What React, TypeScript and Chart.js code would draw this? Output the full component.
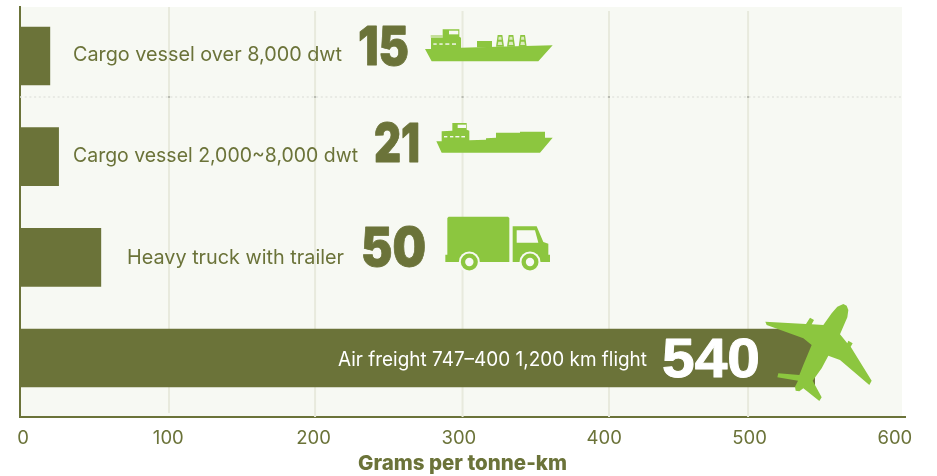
import React, { useEffect, useRef } from "react";
import { Chart, registerables } from "chart.js";

Chart.register(...registerables);

const categories = [
  "Cargo vessel over 8,000 dwt",
  "Cargo vessel 2,000~8,000 dwt",
  "Heavy truck with trailer",
  "Air freight 747\u2013400 1,200 km flight",
];
const values = [15, 21, 50, 540];
const tickValues = [0, 100, 200, 300, 400, 500, 600];
const gridValues = [100.5, 201, 302.5, 403.3, 499];
const axisTitle = "Grams per tonne-km";

const OLIVE = "#6B7339";
const GREEN = "#8CC63F";
const PANEL = "#F7F9F3";
const GRID = "#E8EADD";

const BODY_FONT = "Inter";
const labelRight = [342, 358, 344, 647];
const labelWidth = [269, 285, 217, 309];
const labelDy = [5, 5.7, 7, 8];
const numberLeft = [358, 374, 361, 662];
const numberWidth = [51, 46, 65, 98];
const numberDy = [9, 5, 9, 19];

type Pt = [number, number];
const hull1: Pt[] = [[15,147],[33,147],[33,113],[68,113],[68,88],[118,88],[118,110],[123,113],[123,143],[175,142],[398,136],[355,184],[35,184]];
const shipLight1: Pt[] = [[32,105],[68,105],[68,113],[32,113]];
const win1: Pt[] = [[87,92],[115,92],[115,103],[87,103]];
const dashes1: Pt[] = [[40,50],[58,68],[76,88],[96,108]];
const box1: Pt[] = [[171,123],[216,123],[216,142],[171,142]];
const cranes1 = [230, 263, 298];
const hull2: Pt[] = [[49,425],[65,425],[65,395],[97,393],[97,370],[140,370],[140,390],[148,393],[148,422],[198,420],[198,416],[228,414],[228,399],[300,399],[300,396],[375,396],[375,414],[398,414],[360,459],[65,459]];
const win2: Pt[] = [[113,375],[138,375],[138,385],[113,385]];
const dashes2: Pt[] = [[72,82],[90,100],[106,118],[124,135]];
const truckBox: Pt[] = [[46,148],[52,148],[52,38],[56,34],[234,34],[238,38],[238,170],[46,170]];
const truckCab: Pt[] = [[248,63],[320,63],[340,110],[355,115],[355,148],[360,148],[360,170],[248,170]];
const truckWin: Pt[] = [[260,75],[315,75],[325,112],[260,112]];
const wheels = [118, 300];
const plane: Pt[] = [[610,42],[620,47],[625,60],[622,82],[600,133],[622,160],[625,152],[638,160],[632,170],[695,272],[688,285],[600,210],[565,197],[545,235],[518,272],[545,322],[538,333],[490,295],[478,304],[467,302],[465,290],[474,272],[412,262],[415,250],[478,255],[490,225],[515,165],[490,145],[380,105],[376,95],[498,102],[510,83],[522,90],[515,103],[550,105],[575,70],[592,50]];

const iconAnchors = [
  { x: 420, dy: -56 },
  { x: 420, dy: -157 },
  { x: 430, dy: -52 },
  { x: 640, dy: -68 },
];

function poly(ctx: CanvasRenderingContext2D, pts: Pt[], ox: number, oy: number, color: string) {
  ctx.fillStyle = color;
  ctx.beginPath();
  pts.forEach(([x, y], i) => {
    const px = ox + x / 3;
    const py = oy + y / 3;
    if (i === 0) ctx.moveTo(px, py);
    else ctx.lineTo(px, py);
  });
  ctx.closePath();
  ctx.fill();
}

function dashRow(ctx: CanvasRenderingContext2D, dashes: Pt[], y: number, ox: number, oy: number) {
  ctx.fillStyle = PANEL;
  dashes.forEach(([a, b]) => ctx.fillRect(ox + a / 3, oy + y / 3, (b - a) / 3, 1.4));
}

function fitText(ctx: CanvasRenderingContext2D, text: string, left: number, y: number, width: number, stroke = 0) {
  const natural = ctx.measureText(text).width;
  ctx.save();
  ctx.textAlign = "left";
  ctx.translate(left, y);
  ctx.scale(width / natural, 1);
  if (stroke > 0) {
    ctx.strokeStyle = ctx.fillStyle;
    ctx.lineWidth = stroke;
    ctx.lineJoin = "round";
    ctx.strokeText(text, 0, 0);
  }
  ctx.fillText(text, 0, 0);
  ctx.restore();
}

function drawIcons(ctx: CanvasRenderingContext2D, ys: number[]) {
  let a = iconAnchors[0];
  let ox = a.x;
  let oy = ys[0] + a.dy;
  poly(ctx, shipLight1, ox, oy, "#C5DF9A");
  poly(ctx, hull1, ox, oy, GREEN);
  poly(ctx, win1, ox, oy, PANEL);
  poly(ctx, box1, ox, oy, GREEN);
  dashRow(ctx, dashes1, 130, ox, oy);
  cranes1.forEach((c) => {
    poly(ctx, [[c + 3, 105], [c + 17, 105], [c + 22, 140], [c - 2, 140]], ox, oy, GREEN);
    poly(ctx, [[c + 6, 110], [c + 14, 110], [c + 15, 119], [c + 5, 119]], ox, oy, "#DCEBC0");
    poly(ctx, [[c + 5, 125], [c + 15, 125], [c + 17, 135], [c + 3, 135]], ox, oy, "#DCEBC0");
  });

  a = iconAnchors[1];
  ox = a.x;
  oy = ys[1] + a.dy;
  poly(ctx, hull2, ox, oy, GREEN);
  poly(ctx, win2, ox, oy, PANEL);
  dashRow(ctx, dashes2, 409, ox, oy);

  a = iconAnchors[2];
  ox = a.x;
  oy = ys[2] + a.dy;
  poly(ctx, truckBox, ox, oy, GREEN);
  poly(ctx, truckCab, ox, oy, GREEN);
  poly(ctx, truckWin, ox, oy, PANEL);
  wheels.forEach((w) => {
    const cx = ox + w / 3;
    const cy = oy + 170 / 3;
    [[10.5, PANEL], [8.5, GREEN], [4.2, PANEL]].forEach(([r, color]) => {
      ctx.fillStyle = color as string;
      ctx.beginPath();
      ctx.arc(cx, cy, r as number, 0, Math.PI * 2);
      ctx.fill();
    });
  });

  a = iconAnchors[3];
  poly(ctx, plane, a.x, ys[3] + a.dy, GREEN);
}

const decoration = {
  id: "decoration",
  beforeDraw(chart: any) {
    const { ctx, chartArea: c } = chart;
    ctx.save();
    ctx.fillStyle = PANEL;
    ctx.fillRect(c.left, c.top, c.right - c.left - 3, c.bottom - c.top);
    ctx.restore();
  },
  beforeDatasetsDraw(chart: any) {
    const { ctx, chartArea: c, scales } = chart;
    ctx.save();
    ctx.strokeStyle = GRID;
    ctx.lineWidth = 2;
    gridValues.forEach((v, i) => {
      const x = scales.x.getPixelForValue(v);
      ctx.beginPath();
      ctx.moveTo(x, i === 0 ? c.top : c.top + 4);
      ctx.lineTo(x, i === 0 ? c.bottom - 4 : c.bottom);
      ctx.stroke();
    });
    const yDot = scales.y.getPixelForValue(0.407);
    ctx.strokeStyle = "#E3E5DF";
    ctx.lineWidth = 1.5;
    ctx.setLineDash([2, 2.7]);
    ctx.beginPath();
    ctx.moveTo(c.left, yDot);
    ctx.lineTo(c.right - 3, yDot);
    ctx.stroke();
    ctx.setLineDash([]);
    ctx.fillStyle = "#B9BBB2";
    gridValues.forEach((v) => {
      ctx.fillRect(scales.x.getPixelForValue(v) - 1, yDot - 1, 2, 2);
    });
    ctx.restore();
  },
  afterDatasetsDraw(chart: any) {
    const { ctx, scales } = chart;
    const ys = categories.map((_, i) => scales.y.getPixelForValue(i));
    ctx.save();
    drawIcons(ctx, ys);
    categories.forEach((label, i) => {
      const white = i === 3;
      ctx.fillStyle = white ? "#FFFFFF" : OLIVE;
      ctx.textBaseline = "alphabetic";
      ctx.font = `400 20px ${BODY_FONT}`;
      fitText(ctx, label, labelRight[i] - labelWidth[i], ys[i] + labelDy[i], labelWidth[i]);
      ctx.font = white ? "700 56px 'Liberation Sans'" : `900 53px ${BODY_FONT}`;
      fitText(ctx, String(values[i]), numberLeft[i], ys[i] + numberDy[i], numberWidth[i], white ? 1 : 0.8);
    });
    ctx.restore();
  },
};

export default function App() {
  const ref = useRef<HTMLCanvasElement>(null);
  useEffect(() => {
    const chart = new Chart(ref.current!, {
      type: "bar",
      data: {
        labels: categories,
        datasets: [
          {
            data: values.map((v, i) => ({ x: v, y: i })),
            xAxisID: "xBars",
            yAxisID: "y",
            backgroundColor: OLIVE,
            barThickness: 58,
            base: -5.5,
          } as any,
        ],
      },
      options: {
        indexAxis: "y",
        animation: false,
        responsive: false,
        layout: { autoPadding: false, padding: { top: 7, right: 32, left: 0, bottom: 0 } },
        plugins: { legend: { display: false }, tooltip: { enabled: false } },
        scales: {
          x: {
            type: "linear",
            min: -2.06,
            max: 607,
            afterBuildTicks: (s: any) => {
              s.ticks = tickValues.map((value) => ({ value }));
            },
            afterFit: (s: any) => {
              s.height = 59;
            },
            grid: { display: false, drawTicks: false },
            border: { color: OLIVE, width: 2 },
            ticks: {
              color: OLIVE,
              padding: 10,
              maxRotation: 0,
              autoSkip: false,
              font: { family: BODY_FONT, size: 18.5, weight: "400" },
            },
            title: {
              display: true,
              text: axisTitle,
              color: OLIVE,
              font: { family: BODY_FONT, size: 20.5, weight: "800" },
              padding: { top: 2, bottom: 0 },
            },
          },
          xBars: { type: "linear", axis: "x", display: false, min: -5.5, max: 602 },
          y: {
            type: "linear",
            offset: false,
            reverse: true,
            min: -0.487,
            max: 3.586,
            afterFit: (s: any) => {
              s.width = 20;
            },
            grid: { display: false, drawTicks: false, offset: false },
            border: { color: OLIVE, width: 2 },
            ticks: { display: false },
          },
        },
      } as any,
      plugins: [decoration],
    });
    return () => chart.destroy();
  }, []);
  return (
    <div style={{ position: "absolute", left: 0, top: 0, width: 937, height: 476, background: "#fff" }}>
      <canvas ref={ref} width={937} height={476} style={{ display: "block" }} />
    </div>
  );
}
